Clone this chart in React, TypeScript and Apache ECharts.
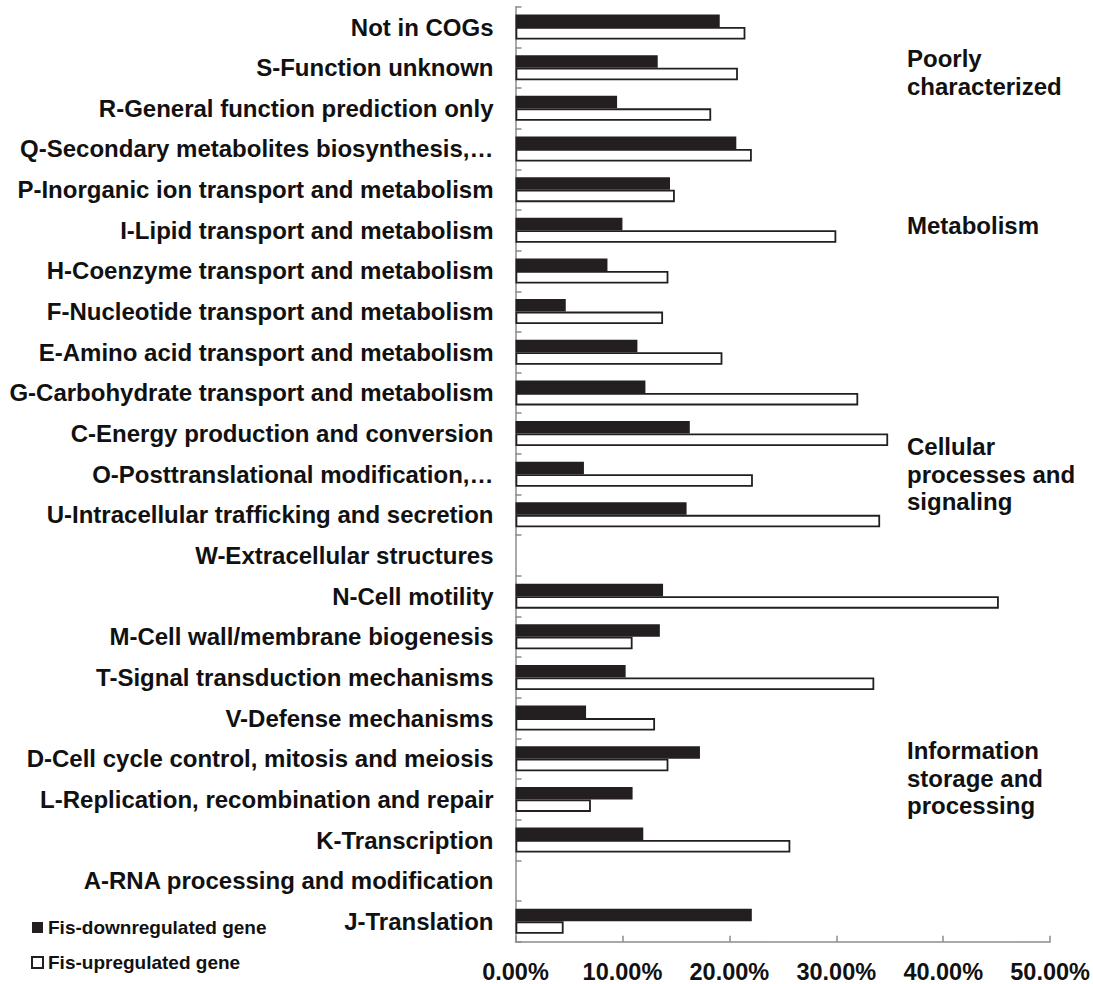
import React, { useEffect, useRef } from "react";
import * as echarts from "echarts";

// COG functional categories, listed top to bottom
const categories = [
  "Not in COGs",
  "S-Function unknown",
  "R-General function prediction only",
  "Q-Secondary metabolites biosynthesis,…",
  "P-Inorganic ion transport and metabolism",
  "I-Lipid transport and metabolism",
  "H-Coenzyme transport and metabolism",
  "F-Nucleotide transport and metabolism",
  "E-Amino acid transport and metabolism",
  "G-Carbohydrate transport and metabolism",
  "C-Energy production and conversion",
  "O-Posttranslational modification,…",
  "U-Intracellular trafficking and secretion",
  "W-Extracellular structures",
  "N-Cell motility",
  "M-Cell wall/membrane biogenesis",
  "T-Signal transduction mechanisms",
  "V-Defense mechanisms",
  "D-Cell cycle control, mitosis and meiosis",
  "L-Replication, recombination and repair",
  "K-Transcription",
  "A-RNA processing and modification",
  "J-Translation",
];

// Percent of genes in each category (null = no genes)
const downregulated = [
  19.1, 13.3, 9.5, 20.65, 14.45, 10.0, 8.6, 4.7, 11.4, 12.15, 16.3, 6.4, 16.0,
  null, 13.8, 13.5, 10.3, 6.6, 17.25, 10.95, 11.95, null, 22.1,
];
const upregulated = [
  21.5, 20.8, 18.3, 22.1, 14.9, 30.0, 14.3, 13.8, 19.35, 32.05, 34.85, 22.2,
  34.1, null, 45.2, 10.95, 33.55, 13.05, 14.3, 7.05, 25.7, null, 4.5,
];

const seriesNames = ["Fis-downregulated gene", "Fis-upregulated gene"];

// Functional group captions on the right-hand side
const groupNames = [
  "Poorly\ncharacterized",
  "Metabolism",
  "Cellular\nprocesses and\nsignaling",
  "Information\nstorage and\nprocessing",
];

const FONT = "'Liberation Sans', Arial, Helvetica, sans-serif";
const INK = "#231f20";
const AXIS = "#8c8c8c";

export default function App() {
  const ref = useRef<HTMLDivElement>(null);

  useEffect(() => {
    if (!ref.current) return;
    const chart = echarts.init(ref.current, null, { renderer: "svg" });

    const groupTops = [45, 212, 433, 737];

    chart.setOption({
      animation: false,
      backgroundColor: "#ffffff",
      grid: { left: 515.5, right: 40.3, top: 6.7, bottom: 42.3, containLabel: false },
      legend: {
        orient: "vertical",
        left: 31,
        top: 918,
        padding: 0,
        itemWidth: 11,
        itemHeight: 11,
        itemGap: 16,
        icon: "rect",
        selectedMode: false,
        data: seriesNames,
        textStyle: {
          fontFamily: FONT,
          fontWeight: "bold",
          fontSize: 19,
          color: "#111",
        },
      },
      xAxis: {
        type: "value",
        min: 0,
        max: 50,
        interval: 10,
        splitLine: { show: false },
        axisLine: { show: true, lineStyle: { color: AXIS, width: 1.5 } },
        axisTick: { show: true, inside: true, length: 6, lineStyle: { color: AXIS, width: 1.5 } },
        axisLabel: {
          margin: 18,
          fontFamily: FONT,
          fontWeight: "bold",
          fontSize: 23.5,
          color: "#111",
          formatter: (v: number) => `${v.toFixed(2)}%`,
        },
      },
      yAxis: {
        type: "category",
        inverse: true,
        data: categories,
        axisLine: { show: true, lineStyle: { color: AXIS, width: 1.5 } },
        axisTick: { show: true, inside: true, length: 6, lineStyle: { color: AXIS, width: 1.5 } },
        axisLabel: {
          interval: 0,
          margin: 22,
          fontFamily: FONT,
          fontWeight: "bold",
          fontSize: 24,
          color: "#111",
        },
      },
      series: [
        {
          name: seriesNames[0],
          type: "bar",
          data: downregulated,
          barWidth: 12.5,
          barGap: "0%",
          itemStyle: { color: INK, borderColor: INK, borderWidth: 0 },
        },
        {
          name: seriesNames[1],
          type: "bar",
          data: upregulated,
          barWidth: 12.5,
          barGap: "0%",
          itemStyle: { color: "#ffffff", borderColor: INK, borderWidth: 1.8 },
        },
      ],
      graphic: groupNames.map((text, i) => ({
        type: "text",
        left: 907,
        top: groupTops[i],
        style: {
          text,
          fontFamily: FONT,
          fontWeight: "bold",
          fontSize: 24,
          lineHeight: 27.5,
          fill: "#111",
        },
      })),
    });

    return () => chart.dispose();
  }, []);

  return (
    <div
      ref={ref}
      style={{ position: "absolute", left: 0, top: 0, width: 1093, height: 984 }}
    />
  );
}
